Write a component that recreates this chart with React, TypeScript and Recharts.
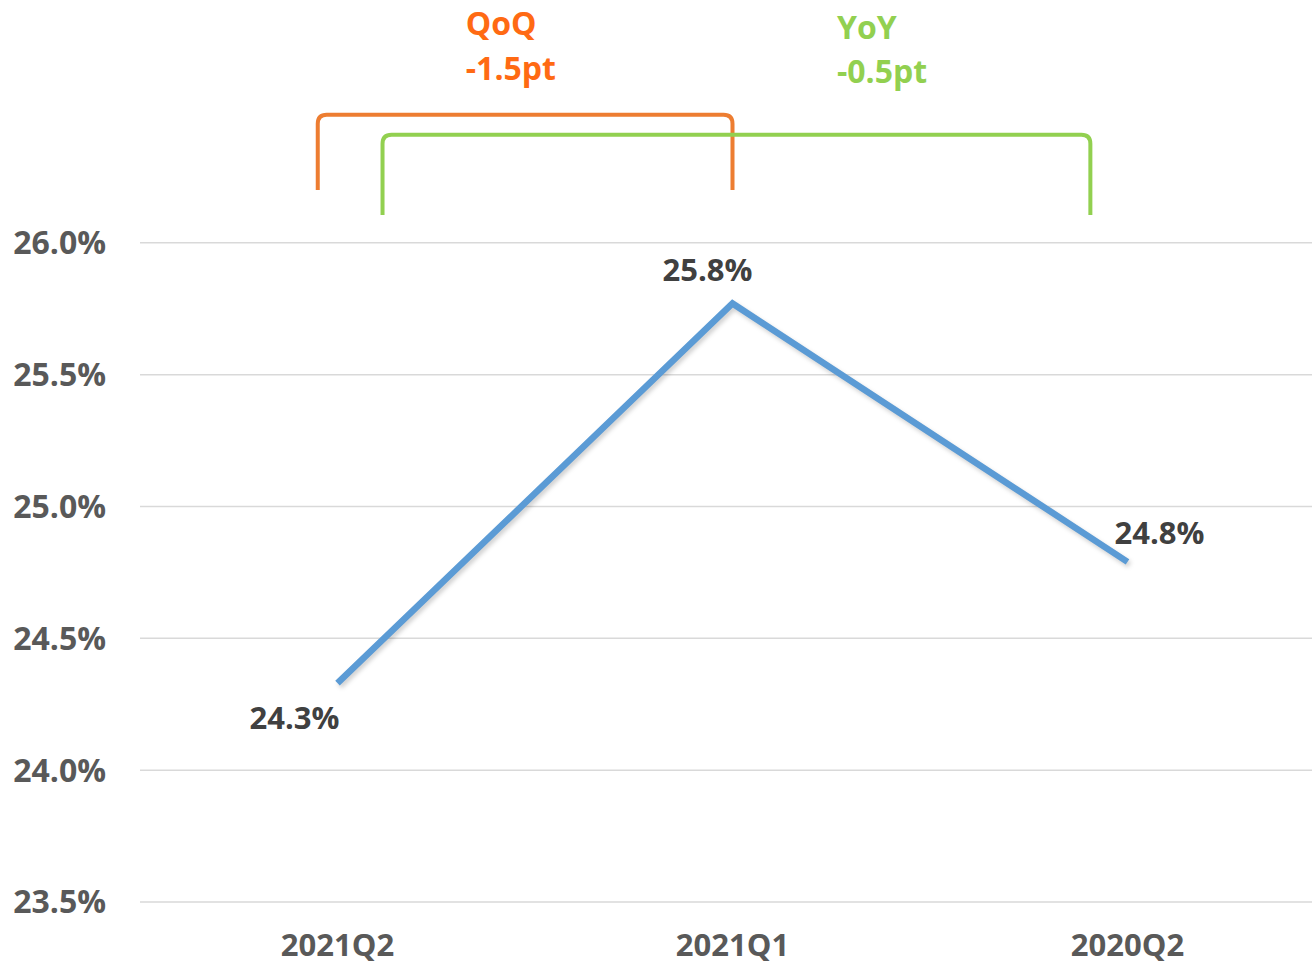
import React from 'react';
import { LineChart, Line, XAxis, YAxis, CartesianGrid, ReferenceLine, LabelList } from 'recharts';

// categories and values (percent)
const quarters = ['2021Q2', '2021Q1', '2020Q2'];
const ratio = [24.33, 25.77, 24.79];
const yTicks = [23.5, 24.0, 24.5, 25.0, 25.5, 26.0];

// comparison brackets (x in category index units, y in percent)
const bracketNames = ['QoQ', 'YoY'];
const bracketDeltas = ['-1.5pt', '-0.5pt'];
const bracketFrom = [-0.05, 0.114];
const bracketTo = [1.0, 1.906];
const bracketFoot = [26.2, 26.106];
const bracketTop = [26.486, 26.41];

const data = quarters.map((q, i) => ({ x: i, quarter: q, value: ratio[i] }));

const FONT = '"Open Sans", Lato, sans-serif';
const LINE_BLUE = '#5B9BD5';
const bracketStroke = ['#ED7D31', '#92D050'];
const bracketText = ['#FF6A13', '#92D050'];
// where the caption sits along the bracket, and baseline offsets above its top
const captionAt = [0.357, 0.642];
const captionLift = [[80, 35], [96, 52]];

// data label offsets from each point (centre of text)
const labelDx = [-43, -25, 32];
const labelDy = [34, -34, -30];

const Bracket = (i: number) => (p: any) => {
  const { x1, y1, x2, y2 } = p;
  const r = 9;
  const d = `M${x1},${y1} V${y2 + r} Q${x1},${y2} ${x1 + r},${y2} H${x2 - r} Q${x2},${y2} ${x2},${y2 + r} V${y1}`;
  const tx = x1 + (x2 - x1) * captionAt[i];
  return (
    <g>
      <path d={d} fill="none" stroke={bracketStroke[i]} strokeWidth={4} />
      <text x={tx} y={y2 - captionLift[i][0]} fill={bracketText[i]} fontSize={32} fontWeight={700} fontFamily={FONT}>
        {bracketNames[i]}
      </text>
      <text x={tx} y={y2 - captionLift[i][1]} fill={bracketText[i]} fontSize={32} fontWeight={700} fontFamily={FONT}>
        {bracketDeltas[i]}
      </text>
    </g>
  );
};

const PointLabel = (props: any) => {
  const { x, y, value, index } = props;
  return (
    <text
      x={x + labelDx[index]}
      y={y + labelDy[index]}
      textAnchor="middle"
      dominantBaseline="central"
      fill="#404040"
      fontSize={31}
      fontWeight={700}
      fontFamily={FONT}
    >
      {Number(value).toFixed(1)}%
    </text>
  );
};

export default function App() {
  return (
    <div style={{ position: 'absolute', left: 0, top: 0, width: 1312, height: 967, overflow: 'hidden', background: '#fff', fontFamily: FONT }}>
      <LineChart width={1325} height={967} data={data} margin={{ top: 111, right: 0, bottom: 0, left: 0 }}>
        <CartesianGrid vertical={false} horizontalValues={yTicks} stroke="#D9D9D9" strokeWidth={1.5} />
        <XAxis
          dataKey="x"
          type="number"
          domain={[-0.5, 2.5]}
          ticks={[0, 1, 2]}
          tickFormatter={(v: number) => quarters[v]}
          height={65}
          axisLine={false}
          tickLine={false}
          tickSize={0}
          tickMargin={32}
          tick={{ fill: '#595959', fontSize: 31, fontWeight: 700, fontFamily: FONT }}
        />
        <YAxis
          type="number"
          domain={[23.5, 26.5]}
          ticks={yTicks}
          tickFormatter={(v: number) => v.toFixed(1) + '%'}
          width={140}
          axisLine={false}
          tickLine={false}
          tickSize={0}
          tickMargin={34}
          tick={{ fill: '#595959', fontSize: 32, fontWeight: 700, fontFamily: FONT }}
        />
        {bracketNames.map((n, i) => (
          <ReferenceLine
            key={n}
            segment={[
              { x: bracketFrom[i], y: bracketFoot[i] },
              { x: bracketTo[i], y: bracketTop[i] },
            ]}
            shape={Bracket(i)}
          />
        ))}
        <Line
          type="linear"
          dataKey="value"
          stroke={LINE_BLUE}
          strokeWidth={6.5}
          dot={false}
          activeDot={false}
          isAnimationActive={false}
          style={{ filter: 'drop-shadow(2px 3px 2px rgba(0,0,0,0.18))' }}
        >
          <LabelList dataKey="value" content={PointLabel} />
        </Line>
      </LineChart>
    </div>
  );
}
